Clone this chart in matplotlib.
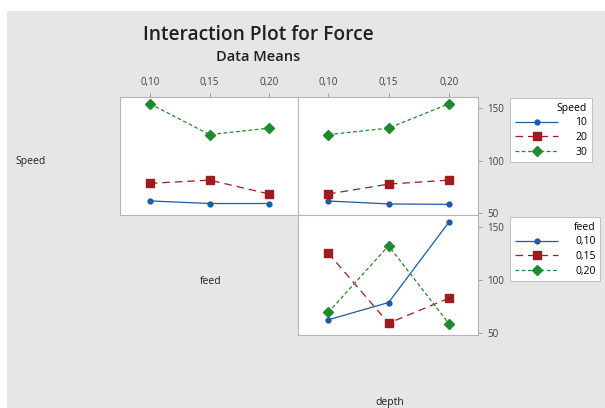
import numpy as np
import matplotlib
matplotlib.use('Agg')
from matplotlib import pyplot as plt
from matplotlib.patches import Rectangle

plt.rcParams['font.family'] = ['Open Sans', 'DejaVu Sans']

# factor levels
feed_levels = [0.10, 0.15, 0.20]
depth_levels = [0.10, 0.15, 0.20]
level_labels = ['0,10', '0,15', '0,20']
speed_names = ['10', '20', '30']
feed_names = ['0,10', '0,15', '0,20']

# means of Force: Speed x feed
speed_feed = [[61.5, 59.0, 59.0],
              [78.3, 81.4, 68.1],
              [154.5, 125.0, 131.2]]
# Speed x depth
speed_depth = [[61.4, 58.6, 58.2],
               [68.1, 77.6, 81.4],
               [125.0, 131.2, 154.5]]
# feed x depth
feed_depth = [[62.3, 78.6, 154.4],
              [125.2, 59.1, 82.7],
              [69.2, 132.1, 58.5]]

colors = ['#1f5aa6', '#9e1b1f', '#1e8c2c']
styles = [(0, ()), (0, (6, 4)), (0, (3, 2))]
markers = ['o', 's', 'D']
msizes = [3.5, 5.5, 5.5]

fig = plt.figure(figsize=(6.05, 4.08), dpi=100)
fig.patch.set_facecolor('white')
fig.patches.append(Rectangle((7 / 605, 0), 1, 1 - 11 / 408, transform=fig.transFigure,
                             facecolor='#e6e6e6', edgecolor='none', zorder=-10))

W, H = 605, 408


def box(x0, y0, x1, y1):
    return [x0 / W, 1 - y1 / H, (x1 - x0) / W, (y1 - y0) / H]


ax_tl = fig.add_axes(box(120, 97, 298, 215))
ax_tr = fig.add_axes(box(298, 97, 478, 215))
ax_br = fig.add_axes(box(298, 215, 478, 335))


def draw(ax, x, data):
    lines = []
    for i in range(3):
        ln, = ax.plot(x, data[i], color=colors[i], linestyle=styles[i], lw=0.9,
                      marker=markers[i], ms=msizes[i], mfc=colors[i], mec=colors[i])
        lines.append(ln)
    ax.set_xlim(0.075, 0.224)
    ax.set_ylim(48, 161)
    ax.set_facecolor('white')
    for s in ax.spines.values():
        s.set_color('#b4b4b4')
        s.set_linewidth(0.8)
    ax.tick_params(labelsize=7, colors='#404040', length=3, width=0.6)
    ax.tick_params(axis='both', color='#909090')
    return lines


speed_lines = draw(ax_tl, feed_levels, speed_feed)
draw(ax_tr, depth_levels, speed_depth)
feed_lines = draw(ax_br, depth_levels, feed_depth)

for ax in (ax_tl, ax_tr):
    ax.xaxis.tick_top()
    ax.set_xticks(feed_levels)
    ax.set_xticklabels(level_labels)
ax_br.set_xticks([])

ax_tl.set_yticks([])
for ax in (ax_tr, ax_br):
    ax.yaxis.tick_right()
    ax.set_yticks([50, 100, 150])

fig.text(258 / W, 1 - 35 / H, 'Interaction Plot for Force', ha='center', va='center',
         fontsize=13.8, fontweight='semibold', color='#202020')
fig.text(258 / W, 1 - 57 / H, 'Data Means', ha='center', va='center',
         fontsize=10.5, fontweight='semibold', color='#202020')

fig.text(31 / W, 1 - 162 / H, 'Speed', ha='center', va='center', fontsize=7.5, color='#202020')
fig.text(211 / W, 1 - 281 / H, 'feed', ha='center', va='center', fontsize=7.5, color='#202020')
fig.text(390 / W, 1 - 402 / H, 'depth', ha='center', va='center', fontsize=7.5, color='#202020')

leg_kw = dict(fontsize=7.5, title_fontsize=7.5, frameon=True, fancybox=False,
              handlelength=4.2, handletextpad=1.6, borderpad=0.45, labelspacing=0.35,
              borderaxespad=0, alignment='right', edgecolor='#c0c0c0', framealpha=1)
leg1 = fig.legend(speed_lines, speed_names, title='Speed', loc='upper left',
                  bbox_to_anchor=(510 / W, 1 - 98 / H), **leg_kw)
leg2 = fig.legend(feed_lines, feed_names, title='feed', loc='upper left',
                  bbox_to_anchor=(510 / W, 1 - 217 / H), **leg_kw)
for leg in (leg1, leg2):
    leg.get_frame().set_linewidth(0.7)

fig.savefig('out.png', dpi=100)
